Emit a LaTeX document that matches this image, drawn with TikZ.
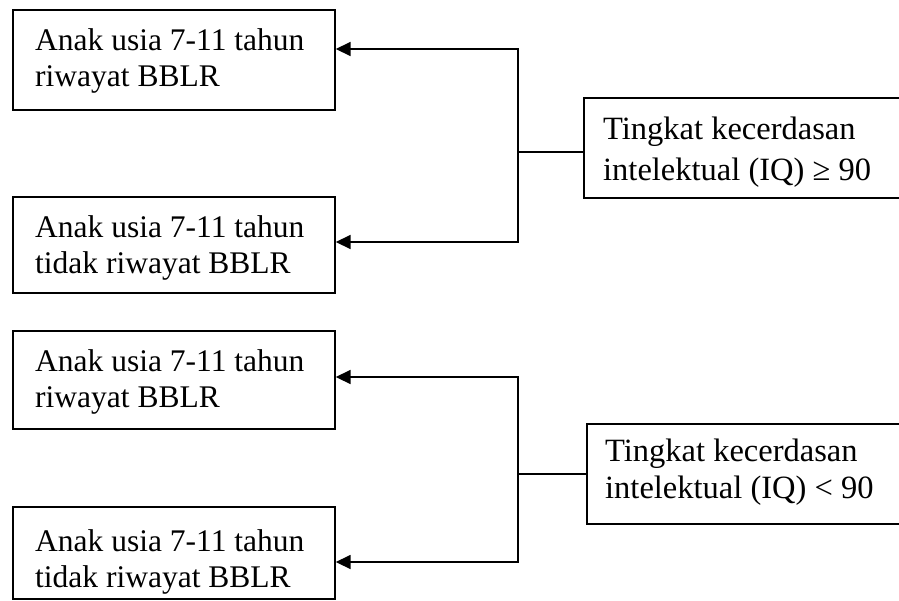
\documentclass[tikz,border=0pt]{standalone}
\usepackage{fontspec}
\setmainfont{Liberation Serif}
\usetikzlibrary{arrows.meta}
\tikzset{
  x=1pt, y=-1pt,
  line/.style={line width=1.7pt, black},
  arr/.style={line, -{Triangle[length=15pt,width=14pt]}},
  frame/.style={draw, line width=1.7pt, rectangle, anchor=north west, inner sep=0pt},
  leftbox/.style={frame, minimum width=322pt},
  rightbox/.style={frame, minimum width=360pt, minimum height=100pt},
  % anchored at the baseline of the second line
  txt/.style={anchor=base west, inner sep=0pt, align=left,
    font=\fontsize{31.5}{36}\selectfont},
}
\begin{document}
\begin{tikzpicture}
\useasboundingbox (0,0) rectangle (899,600);
\clip (0,0) rectangle (899,600);

% upper group: IQ >= 90
\node[leftbox, minimum height=100pt] (a1) at (12,9) {};
\node[leftbox, minimum height=96pt] (b1) at (12,196) {};
\node[rightbox] (r1) at (583,97) {};
\node[txt] (a1t) at (35,86) {Anak usia 7-11 tahun\\riwayat BBLR};
\node[txt] (b1t) at (35,273) {Anak usia 7-11 tahun\\tidak riwayat BBLR};
\node[txt, font=\fontsize{32.5}{41}\selectfont] (r1t) at (603,180) {Tingkat kecerdasan\\intelektual (IQ) ≥ 90};
\coordinate (j1) at (518,49);
\coordinate (j2) at (518,242);
\coordinate (h1) at (518,152);
\draw[arr] (j2) -- (j1) -- (a1.east |- j1);
\draw[arr] (j1) -- (j2) -- (b1.east |- j2);
\draw[line] (r1.west |- h1) -- (h1);

% lower group: IQ < 90
\node[leftbox, minimum height=98pt] (a2) at (12,330) {};
\node[leftbox, minimum height=92pt] (b2) at (12,506) {};
\node[rightbox] (r2) at (586,423) {};
\node[txt] (a2t) at (35,407) {Anak usia 7-11 tahun\\riwayat BBLR};
\node[txt] (b2t) at (35,587) {Anak usia 7-11 tahun\\tidak riwayat BBLR};
\node[txt, font=\fontsize{32.5}{37}\selectfont] (r2t) at (605,498) {Tingkat kecerdasan\\intelektual (IQ) < 90};
\coordinate (j3) at (518,377);
\coordinate (j4) at (518,562);
\coordinate (h2) at (518,474);
\draw[arr] (j4) -- (j3) -- (a2.east |- j3);
\draw[arr] (j3) -- (j4) -- (b2.east |- j4);
\draw[line] (r2.west |- h2) -- (h2);
\end{tikzpicture}
\end{document}
